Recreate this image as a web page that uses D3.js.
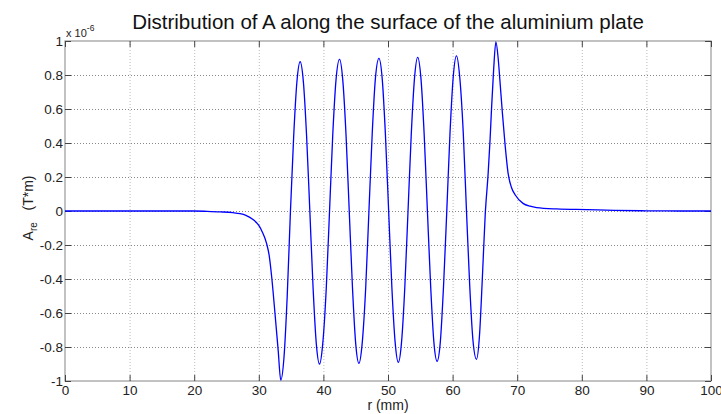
<!DOCTYPE html>
<html>
<head>
<meta charset="utf-8">
<script src="https://cdn.jsdelivr.net/npm/d3@7"></script>
<style>
  html, body { margin: 0; padding: 0; background: #fff; }
  svg { display: block; font-family: "Liberation Sans", Arial, sans-serif; }
</style>
</head>
<body>
<svg id="chart" width="721" height="414"></svg>
<script>
// ---- Data (A in units of 1e-6 T*m) ----
const title = "Distribution of A along the surface of the aluminium plate";
const xTicks = [0, 10, 20, 30, 40, 50, 60, 70, 80, 90, 100];
const yTicks = [-1, -0.8, -0.6, -0.4, -0.2, 0, 0.2, 0.4, 0.6, 0.8, 1];
const yTickLabels = ["-1", "-0.8", "-0.6", "-0.4", "-0.2", "0", "0.2", "0.4", "0.6", "0.8", "1"];

const rValues = [
  0, 10, 20, 22, 24, 26, 27.1, 28, 29.1, 30, 30.5, 31.2, 31.6, 32.0, 32.5, 33.0, 33.4,
  33.9, 34.4, 34.9,
  35.4, 35.9, 36.4, 36.9, 37.4, 37.9,
  38.4, 38.9, 39.4, 39.9, 40.45, 40.95,
  41.45, 41.95, 42.5, 43.0, 43.5, 44.0,
  44.5, 45.0, 45.5, 46.0, 46.55, 47.05,
  47.55, 48.05, 48.6, 49.1, 49.6, 50.1,
  50.6, 51.1, 51.6, 52.1, 52.6, 53.1,
  53.6, 54.1, 54.6, 55.1, 55.6, 56.1,
  56.6, 57.1, 57.6, 58.1, 58.6, 59.1,
  59.6, 60.1, 60.6, 61.1, 61.65, 62.15,
  62.65, 63.15, 63.7, 64.15, 64.6, 65.05,
  65.5, 65.8, 66.05, 66.35, 66.7,
  67.05, 67.3, 67.7, 68.1, 68.6, 69.1, 69.7, 70.9, 72, 73, 76.1, 80.8, 85, 90, 95, 100
];
const aValues = [
  0, 0, 0, -0.002, -0.005, -0.01, -0.016, -0.026, -0.05, -0.085, -0.12, -0.19, -0.26, -0.39, -0.6, -0.82, -0.995,
  -0.86, -0.5, 0,
  0.44, 0.76, 0.878, 0.76, 0.44, 0,
  -0.45, -0.78, -0.9, -0.78, -0.45, 0,
  0.45, 0.77, 0.892, 0.77, 0.45, 0,
  -0.45, -0.78, -0.896, -0.78, -0.45, 0,
  0.45, 0.78, 0.898, 0.78, 0.45, 0,
  -0.45, -0.77, -0.89, -0.77, -0.45, 0,
  0.45, 0.78, 0.904, 0.78, 0.45, 0,
  -0.44, -0.77, -0.884, -0.77, -0.44, 0,
  0.46, 0.79, 0.913, 0.79, 0.46, 0,
  -0.44, -0.76, -0.872, -0.74, -0.4, -0.02,
  0.22, 0.42, 0.62, 0.83, 0.995,
  0.9, 0.78, 0.58, 0.4, 0.22, 0.14, 0.094, 0.045, 0.028, 0.02, 0.012, 0.008, 0.004, 0.001, 0, 0
];

// ---- Layout ----
const svg = d3.select("#chart");
const L = 65, R = 711, T = 41, B = 381;
const x = d3.scaleLinear().domain([0, 100]).range([L, R]);
const y = d3.scaleLinear().domain([-1, 1]).range([B, T]);

// Grid
const grid = svg.append("g");
grid.selectAll("line.vg").data(xTicks.slice(1, -1)).join("line")
  .attr("x1", d => x(d) + 0.5).attr("x2", d => x(d) + 0.5)
  .attr("y1", T).attr("y2", B)
  .attr("stroke", "#bbb").attr("stroke-width", 1).attr("stroke-dasharray", "1,2");
grid.selectAll("line.hg").data(yTicks.slice(1, -1)).join("line")
  .attr("x1", L).attr("x2", R)
  .attr("y1", d => Math.round(y(d)) + 0.5).attr("y2", d => Math.round(y(d)) + 0.5)
  .attr("stroke", "#888").attr("stroke-width", 1).attr("stroke-dasharray", "1,2");

// Frame
svg.append("rect").attr("x", L).attr("y", T).attr("width", R - L).attr("height", B - T)
  .attr("fill", "none").attr("stroke", "#999").attr("stroke-width", 1.2);

// Axes with inward ticks (left/right/bottom/top)
const axL = d3.axisLeft(y).tickValues(yTicks).tickSize(-6).tickPadding(2)
  .tickFormat((d, i) => yTickLabels[i]);
const axR = d3.axisRight(y).tickValues(yTicks).tickSize(-6).tickFormat("");
const axB = d3.axisBottom(x).tickValues(xTicks).tickSize(-6).tickPadding(4).tickFormat(d3.format("d"));
const axT = d3.axisTop(x).tickValues(xTicks).tickSize(-6).tickFormat("");

function styleAxis(g) {
  g.select(".domain").remove();
  g.selectAll(".tick line").attr("stroke", "#444").attr("stroke-width", 1);
  g.selectAll(".tick text").attr("fill", "#222")
    .style("font-family", "'Liberation Sans', Arial, sans-serif").style("font-size", "13.5px");
}
svg.append("g").attr("transform", `translate(${L},0)`).call(axL).call(styleAxis);
svg.append("g").attr("transform", `translate(${R},0)`).call(axR).call(styleAxis);
svg.append("g").attr("transform", `translate(0,${B})`).call(axB).call(styleAxis);
svg.append("g").attr("transform", `translate(0,${T})`).call(axT).call(styleAxis);

// Curve
const pts = rValues.map((r, i) => [r, aValues[i]]);
const line = d3.line().x(d => x(d[0])).y(d => y(d[1])).curve(d3.curveMonotoneX);
svg.append("path").datum(pts).attr("d", line)
  .attr("fill", "none").attr("stroke", "#0000ff").attr("stroke-width", 1.3)
  .attr("stroke-linejoin", "round");

// Title
svg.append("text").attr("x", 388).attr("y", 29).attr("text-anchor", "middle")
  .style("font-size", "20.5px").attr("fill", "#111").text(title);

// Exponent label
const ex = svg.append("text").attr("x", 66).attr("y", 37).style("font-size", "11px").attr("fill", "#222");
ex.append("tspan").text("x 10");
ex.append("tspan").attr("dy", -6).style("font-size", "8.5px").text("-6");

// X label
svg.append("text").attr("x", 388).attr("y", 410).attr("text-anchor", "middle")
  .style("font-size", "14px").attr("fill", "#222").text("r (mm)");

// Y label
const yl = svg.append("text").attr("transform", "translate(33,208) rotate(-90)")
  .attr("text-anchor", "middle").style("font-size", "14px").attr("fill", "#222")
  .attr("xml:space", "preserve");
yl.append("tspan").text("A");
yl.append("tspan").attr("dy", 4).style("font-size", "10px").text("re");
yl.append("tspan").attr("dy", -4).text("\u00a0\u00a0\u00a0(T*m)");
</script>
</body>
</html>
